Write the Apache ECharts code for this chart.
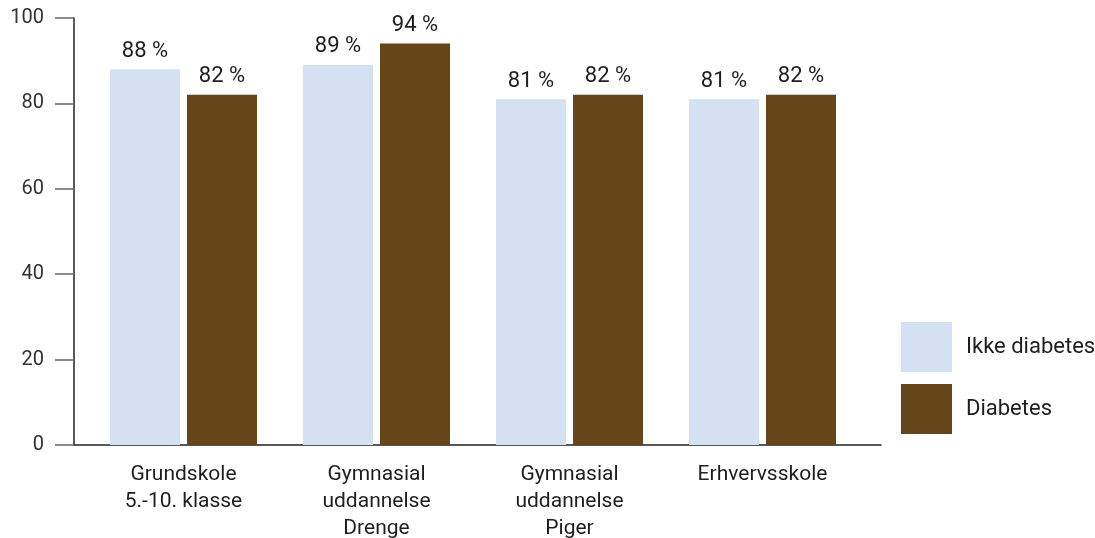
<!DOCTYPE html>
<html>
<head>
<meta charset="utf-8">
<script src="https://cdn.jsdelivr.net/npm/echarts@6/dist/echarts.min.js"></script>
<style>
  html, body { margin: 0; padding: 0; background: #fff; }
  #chart { width: 1095px; height: 538px; }
</style>
</head>
<body>
<div id="chart"></div>
<script>
// Share of pupils (%) by school type, with and without diabetes
const categories = [
  'Grundskole\n5.-10. klasse',
  'Gymnasial\nuddannelse\nDrenge',
  'Gymnasial\nuddannelse\nPiger',
  'Erhvervsskole'
];
const ikkeDiabetes = [88, 89, 81, 81];
const diabetes = [82, 94, 82, 82];
const yTicks = [0, 20, 40, 60, 80, 100];

const FONT = 'Roboto';
const TEXT = '#1e1e1e';

const chart = echarts.init(document.getElementById('chart'), null, { renderer: 'canvas' });

const valueLabel = {
  show: true,
  position: 'top',
  distance: 7,
  formatter: '{c} %',
  fontFamily: FONT,
  fontSize: 22,
  color: TEXT
};

chart.setOption({
  animation: false,
  textStyle: { fontFamily: FONT },
  grid: [
    { left: 87, width: 772, top: 18, bottom: 93, containLabel: false, outerBoundsMode: 'none' },
    { left: 74, right: 214, top: 18, bottom: 93, containLabel: false, outerBoundsMode: 'none' }
  ],
  legend: {
    orient: 'vertical',
    left: 901,
    top: 322,
    padding: 0,
    itemWidth: 51,
    itemHeight: 50,
    itemGap: 12,
    icon: 'rect',
    textStyle: { fontFamily: FONT, fontSize: 22, color: TEXT, padding: [0, 0, 0, 9] },
    data: ['Ikke diabetes', 'Diabetes']
  },
  xAxis: [
    {
      type: 'category',
      gridIndex: 0,
      data: categories,
      axisLine: { show: false },
      axisTick: { show: false },
      axisLabel: {
        margin: 16,
        fontFamily: FONT,
        fontSize: 21,
        lineHeight: 27,
        color: TEXT,
        interval: 0
      }
    },
    {
      // baseline spanning the full plotting width
      type: 'category',
      gridIndex: 1,
      data: [''],
      axisLine: { show: true, lineStyle: { color: '#222', width: 1.5 } },
      axisTick: { show: false },
      axisLabel: { show: false }
    }
  ],
  yAxis: [
    {
      type: 'value',
      gridIndex: 0,
      min: 0,
      max: 100,
      interval: 20,
      offset: 13,
      axisLine: { show: true, lineStyle: { color: '#222', width: 1.5 } },
      axisTick: { show: true, length: 19, lineStyle: { color: '#666', width: 1.5 } },
      splitLine: { show: false },
      axisLabel: {
        margin: 30,
        fontFamily: FONT,
        fontSize: 20,
        color: '#333',
        formatter: v => yTicks.includes(v) ? String(v) : ''
      }
    },
    {
      type: 'value',
      gridIndex: 1,
      min: 0,
      max: 100,
      show: false
    }
  ],
  series: [
    {
      name: 'Ikke diabetes',
      type: 'bar',
      xAxisIndex: 0,
      yAxisIndex: 0,
      data: ikkeDiabetes,
      barWidth: 70,
      barGap: '10%',
      itemStyle: { color: '#d3e1f3' },
      label: valueLabel
    },
    {
      name: 'Diabetes',
      type: 'bar',
      xAxisIndex: 0,
      yAxisIndex: 0,
      data: diabetes,
      barWidth: 70,
      barGap: '10%',
      itemStyle: { color: '#654519' },
      label: valueLabel
    }
  ]
});
</script>
</body>
</html>
